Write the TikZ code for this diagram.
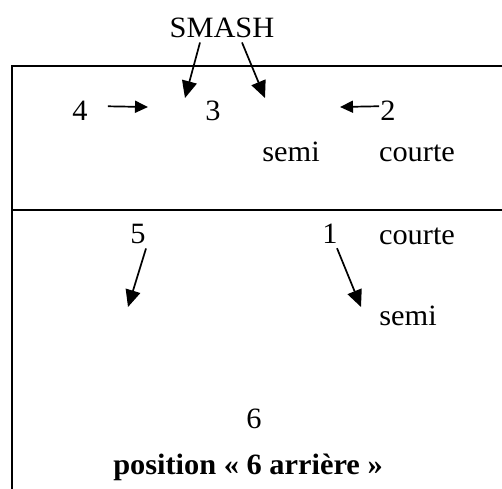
\documentclass[tikz,border=0pt]{standalone}
\usepackage{fontspec}
\setmainfont[FakeStretch=1.03]{Liberation Serif}
\usetikzlibrary{arrows.meta}

\tikzset{
  lbl/.style={anchor=base, inner sep=0pt, font=\fontsize{29.5}{34}\selectfont},
  diagarrow/.style={line width=1.7pt, -{Triangle[length=17pt,width=15pt]}},
  flatarrow/.style={line width=1.7pt, -{Triangle[length=13pt,width=12pt]}},
}

\begin{document}
\begin{tikzpicture}[x=1pt, y=-1pt]
\useasboundingbox (0,0) rectangle (502,488);
\clip (0,0) rectangle (502,488);
% terrain
\draw[line width=2pt] (12,520) -- (12,66) -- (520,66);
\draw[line width=2pt] (12,210) -- (520,210);

\node[lbl] (smash) at (222,37) {SMASH};
\node[lbl] (four) at (80,120) {4};
\node[lbl] (three) at (213,120) {3};
\node[lbl] (two) at (388,120) {2};
\node[lbl] (semiA) at (291,161) {semi};
\node[lbl] (courteA) at (417,161) {courte};
\node[lbl] (five) at (138,243) {5};
\node[lbl] (one) at (330,243) {1};
\node[lbl] (courteB) at (417,244) {courte};
\node[lbl] (semiB) at (408,325) {semi};
\node[lbl] (six) at (254,428) {6};
\node[lbl, font=\fontsize{29.5}{34}\selectfont\bfseries] (pos) at (248,474) {position «~6 arrière~»};

\coordinate (tL) at (185,98);
\coordinate (tR) at (265,98);
\coordinate (t4) at (148,107);
\coordinate (t2) at (340,107);
\coordinate (t5) at (128,307);
\coordinate (t1) at (361,307);

\draw[diagarrow] (smash.south) ++(-22,5) -- (tL);
\draw[diagarrow] (smash.south) ++(20,5) -- (tR);
\draw[flatarrow] (four.east) ++(20,-4) -- (t4);
\draw[flatarrow] (two.west) ++(-1,-4) -- (t2);
\draw[diagarrow] (five.south) ++(8,5) -- (t5);
\draw[diagarrow] (one.south) ++(7,5) -- (t1);
\end{tikzpicture}
\end{document}
